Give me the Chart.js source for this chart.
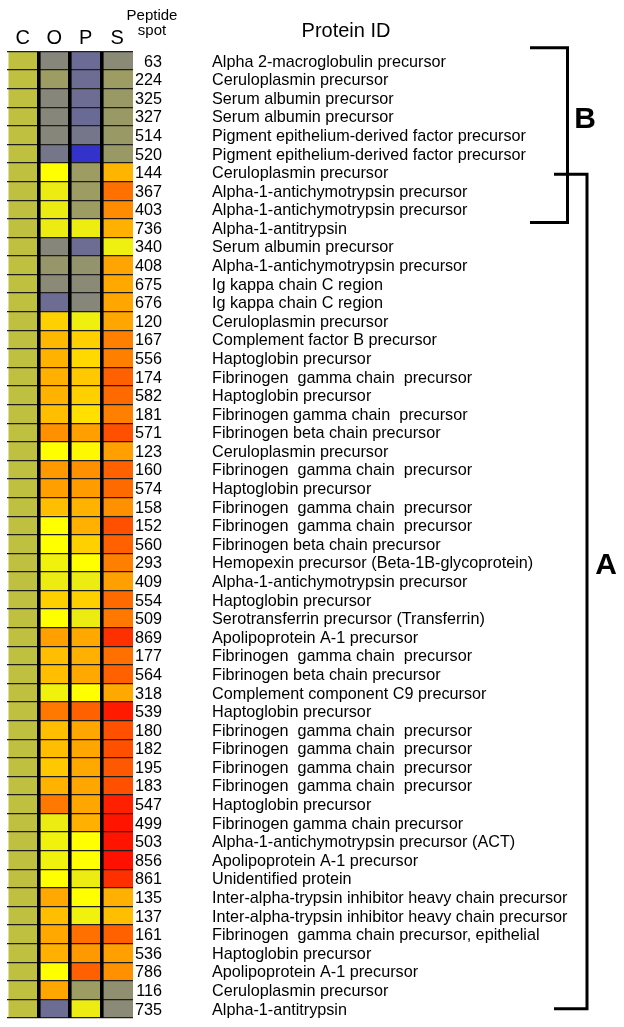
<!DOCTYPE html>
<html>
<head>
<meta charset="utf-8">
<script src="https://cdn.jsdelivr.net/npm/chart.js@4/dist/chart.umd.min.js"></script>
<style>
  body { margin: 0; background: #fff; }
  canvas { display: block; }
</style>
</head>
<body>
<canvas id="heat" width="624" height="1027"></canvas>
<script>
const columns = ['C', 'O', 'P', 'S']

const spots = ['63', '224', '325', '327', '514', '520', '144', '367', '403', '736',
  '340', '408', '675', '676', '120', '167', '556', '174', '582', '181', '571',
  '123', '160', '574', '158', '152', '560', '293', '409', '554', '509',
  '869', '177', '564', '318', '539', '180', '182', '195', '183', '547',
  '499', '503', '856', '861', '135', '137', '161', '536', '786', '116', '735']

const proteins = [
  'Alpha 2-macroglobulin precursor',
  'Ceruloplasmin precursor',
  'Serum albumin precursor',
  'Serum albumin precursor',
  'Pigment epithelium-derived factor precursor',
  'Pigment epithelium-derived factor precursor',
  'Ceruloplasmin precursor',
  'Alpha-1-antichymotrypsin precursor',
  'Alpha-1-antichymotrypsin precursor',
  'Alpha-1-antitrypsin',
  'Serum albumin precursor',
  'Alpha-1-antichymotrypsin precursor',
  'Ig kappa chain C region',
  'Ig kappa chain C region',
  'Ceruloplasmin precursor',
  'Complement factor B precursor',
  'Haptoglobin precursor',
  'Fibrinogen  gamma chain  precursor',
  'Haptoglobin precursor',
  'Fibrinogen gamma chain  precursor',
  'Fibrinogen beta chain precursor',
  'Ceruloplasmin precursor',
  'Fibrinogen  gamma chain  precursor',
  'Haptoglobin precursor',
  'Fibrinogen  gamma chain  precursor',
  'Fibrinogen  gamma chain  precursor',
  'Fibrinogen beta chain precursor',
  'Hemopexin precursor (Beta-1B-glycoprotein)',
  'Alpha-1-antichymotrypsin precursor',
  'Haptoglobin precursor',
  'Serotransferrin precursor (Transferrin)',
  'Apolipoprotein A-1 precursor',
  'Fibrinogen  gamma chain  precursor',
  'Fibrinogen beta chain precursor',
  'Complement component C9 precursor',
  'Haptoglobin precursor',
  'Fibrinogen  gamma chain  precursor',
  'Fibrinogen  gamma chain  precursor',
  'Fibrinogen  gamma chain  precursor',
  'Fibrinogen  gamma chain  precursor',
  'Haptoglobin precursor',
  'Fibrinogen gamma chain precursor',
  'Alpha-1-antichymotrypsin precursor (ACT)',
  'Apolipoprotein A-1 precursor',
  'Unidentified protein',
  'Inter-alpha-trypsin inhibitor heavy chain precursor',
  'Inter-alpha-trypsin inhibitor heavy chain precursor',
  'Fibrinogen  gamma chain precursor, epithelial',
  'Haptoglobin precursor',
  'Apolipoprotein A-1 precursor',
  'Ceruloplasmin precursor',
  'Alpha-1-antitrypsin',
]

// expression level per spot, 0 = control
const cValues = [0, 0, 0, 0, 0, 0, 0, 0, 0, 0,
  0, 0, 0, 0, 0, 0, 0, 0, 0, 0, 0,
  0, 0, 0, 0, 0, 0, 0, 0, 0, 0,
  0, 0, 0, 0, 0, 0, 0, 0, 0, 0,
  0, 0, 0, 0, 0, 0, 0, 0, 0, 0, 0]
const oValues = [-0.9, -0.55, -0.9, -0.9, -0.9, -1.15, 1.0, 0.7, 0.7, 0.7,
  -0.9, -0.65, -0.85, -1.3, 1.37, 1.56, 1.6, 1.62, 1.6, 1.5, 1.87,
  1.0, 1.8, 1.75, 1.5, 1.0, 1.0, 0.78, 0.7, 1.37, 1.0,
  1.75, 1.5, 1.5, 0.78, 2.06, 1.5, 1.5, 1.43, 1.6, 2.05,
  0.7, 0.78, 0.78, 1.0, 1.68, 1.5, 1.68, 1.62, 1.0, 1.7, -1.3]
const pValues = [-1.33, -1.3, -1.3, -1.35, -1.15, -2.2, -0.55, -0.55, -0.55, 0.72,
  -1.3, -0.7, -0.85, -0.9, 0.77, 1.37, 1.3, 1.43, 1.37, 1.24, 1.75,
  1.05, 1.87, 1.78, 1.6, 1.62, 1.37, 1.0, 0.7, 1.37, 0.7,
  1.68, 1.62, 1.68, 1.0, 2.25, 1.7, 1.7, 1.68, 1.7, 1.7,
  1.62, 1.0, 1.0, 0.7, 1.0, 0.78, 2.12, 1.8, 2.25, -0.55, 0.7]
const sValues = [-0.85, -0.55, -0.6, -0.6, -0.6, -0.6, 1.59, 2.12, 1.9, 1.62,
  0.75, 1.71, 1.68, 1.7, 1.7, 2.0, 2.0, 2.25, 2.17, 2.0, 2.37,
  1.75, 2.25, 2.17, 1.87, 2.37, 2.25, 2.0, 1.75, 2.17, 2.05,
  2.62, 2.12, 2.25, 1.68, 2.8, 2.37, 2.37, 2.3, 2.37, 2.75,
  2.84, 2.84, 2.87, 2.62, 1.62, 1.5, 2.25, 1.75, 1.87, -0.75, -0.85]

// cluster brackets, in row units
const groups = [
  { label: 'B', from: -0.7, to: 8.7, at: 3.1 },
  { label: 'A', from: 6.1, to: 51, at: 27.1 },
]

// blue -> gray -> yellow -> red
const stops = [
  [-3, [0, 0, 255]],
  [-1, [128, 128, 128]],
  [1, [255, 255, 0]],
  [3, [255, 0, 0]],
]
const toColor = function (v) {
  v = Math.max(-3, Math.min(3, v))
  for (let i = 0; i < stops.length - 1; i++) {
    const [a, ca] = stops[i]
    const [b, cb] = stops[i + 1]
    if (v <= b) {
      const t = (v - a) / (b - a)
      const c = ca.map((x, k) => Math.round(x + (cb[k] - x) * t))
      return `rgb(${c[0]},${c[1]},${c[2]})`
    }
  }
}

const values = [cValues, oValues, pValues, sValues]
const font = "'Liberation Sans', Arial, sans-serif"

const labelsPlugin = {
  id: 'labels',
  afterDraw(chart) {
    const c = chart.ctx
    const x = chart.scales.x
    const y = chart.scales.y
    c.save()
    c.fillStyle = '#000'

    // column headers
    c.font = `20px ${font}`
    c.textAlign = 'center'
    columns.forEach((col, i) => {
      c.fillText(col, x.getPixelForValue(i + 0.5), 44)
    })
    c.font = `15px ${font}`
    c.fillText('Peptide', 152, 20)
    c.fillText('spot', 152, 35)
    c.font = `20px ${font}`
    c.fillText('Protein ID', 346, 37)

    // rows
    c.font = `16.2px ${font}`
    spots.forEach((s, i) => {
      const py = y.getPixelForValue(i) + 5.8
      c.textAlign = 'right'
      c.fillText(s, 162, py)
      c.textAlign = 'left'
      c.fillText(proteins[i], 212, py)
    })

    // brackets
    c.strokeStyle = '#000'
    c.lineWidth = 3
    const bx = [[530, 567.5], [554, 587]]
    const lx = [585, 606]
    groups.forEach((g, k) => {
      const y1 = y.getPixelForValue(g.from)
      const y2 = y.getPixelForValue(g.to)
      c.beginPath()
      c.moveTo(bx[k][0], y1)
      c.lineTo(bx[k][1], y1)
      c.lineTo(bx[k][1], y2)
      c.lineTo(bx[k][0], y2)
      c.stroke()
      c.font = `bold 30px ${font}`
      c.textAlign = 'center'
      c.textBaseline = 'middle'
      c.fillText(g.label, lx[k], y.getPixelForValue(g.at) + 1)
      c.textBaseline = 'alphabetic'
    })
    c.restore()
  },
}

const ctx = document.getElementById('heat')
new Chart(ctx, {
  type: 'bar',
  data: {
    labels: spots,
    datasets: columns.map((col, i) => ({
      label: col,
      data: spots.map(() => 1),
      backgroundColor: values[i].map(toColor),
      borderWidth: 0,
      categoryPercentage: 1,
      barPercentage: 1,
    })),
  },
  options: {
    indexAxis: 'y',
    responsive: false,
    animation: false,
    layout: { padding: { left: 7, right: 491, top: 51.5, bottom: 9 } },
    plugins: { legend: { display: false }, tooltip: { enabled: false } },
    scales: {
      x: {
        type: 'linear',
        stacked: true,
        min: 0,
        max: 4,
        position: 'top',
        ticks: { display: false, stepSize: 1 },
        border: { display: false },
        grid: {
          z: 2,
          drawTicks: false,
          color: (c) => (c.tick.value > 0 && c.tick.value < 4 ? '#000' : 'rgba(0,0,0,0)'),
          lineWidth: 3.6,
        },
      },
      y: {
        stacked: true,
        ticks: { display: false },
        border: { display: false },
        grid: { z: 1, offset: true, drawTicks: false, color: '#1e1e1e', lineWidth: 1.3 },
      },
    },
  },
  plugins: [labelsPlugin],
})
</script>
</body>
</html>
